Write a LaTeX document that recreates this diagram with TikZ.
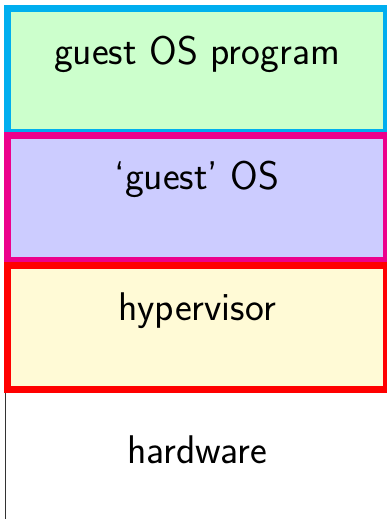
\documentclass[tikz,border=0pt]{standalone}
\usetikzlibrary{positioning}
\definecolor{layercyan}{RGB}{0,174,239}
\definecolor{layermagenta}{RGB}{236,0,140}
\definecolor{layerred}{RGB}{255,0,0}
\definecolor{fillgreen}{RGB}{204,255,204}
\definecolor{fillblue}{RGB}{204,204,255}
\definecolor{fillyellow}{RGB}{255,250,214}
\begin{document}
\begin{tikzpicture}[x=1pt,y=-1pt,
  layerbox/.style={rectangle, line width=7pt, minimum width=379.3pt,
    minimum height=124.6pt, inner sep=0pt, outer sep=0pt, anchor=north west},
  hwbox/.style={rectangle, draw=black!80, line width=0.9pt, minimum width=383pt,
    minimum height=140pt, inner sep=0pt, outer sep=0pt, anchor=north west},
  layertext/.style={anchor=base, inner sep=0pt,
    font=\fontsize{40}{48}\selectfont\sffamily}]
  \useasboundingbox (0,0) rectangle (387,519);
  \clip (0,0) rectangle (387,519);

  % hardware at the bottom, drawn first so the layers sit on top of it
  \node[hwbox] (hw) at (5.7,392) {};
  % software layers, each one overlapping the border of the one above
  \node[layerbox, draw=layercyan, fill=fillgreen] (prog) at (7.5,8.2) {};
  \node[layerbox, draw=layermagenta, fill=fillblue] (gos) at (7.5,135.8) {};
  \node[layerbox, draw=layerred, fill=fillyellow] (hyp) at (7.5,265.2) {};

  % labels
  \node[layertext] (progtxt) at (197,65) {guest OS program};
  \node[layertext] (gostxt) at (197,189.3) {`guest' OS};
  \node[layertext] (hyptxt) at (197,320) {hypervisor};
  \node[layertext] (hwtxt) at (197,463.3) {hardware};
\end{tikzpicture}
\end{document}
